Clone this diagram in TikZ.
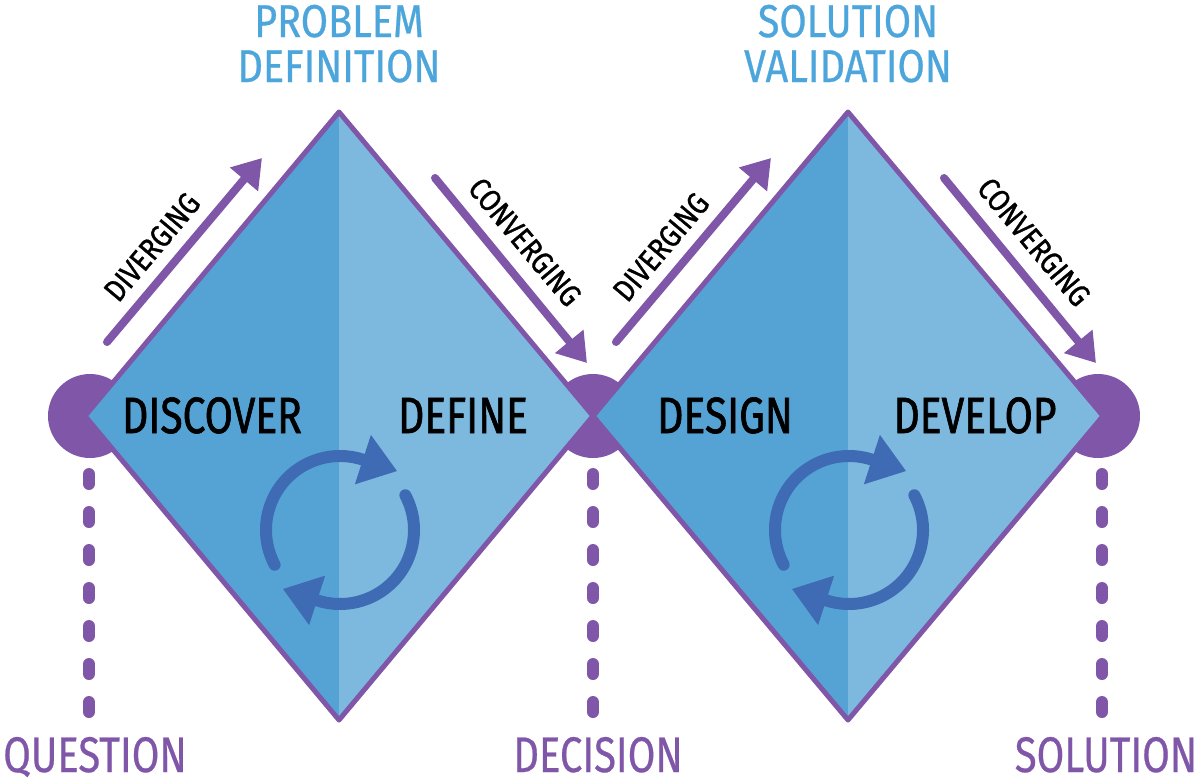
\documentclass[tikz,border=0pt]{standalone}
\usepackage{fontspec}
\newfontfamily\dinfont[FakeStretch=0.8,FakeBold=0.5]{Fira Sans}
\newfontfamily\dintitle[FakeStretch=0.86,FakeBold=0.6]{Fira Sans}
\newfontfamily\dinmode[FakeStretch=0.86,FakeBold=1.2]{Fira Sans}
\newfontfamily\dinbold[FakeStretch=0.8,FakeBold=1.2]{Fira Sans}
\usetikzlibrary{arrows.meta}
\definecolor{dpurple}{HTML}{7F56A8}
\definecolor{bluedark}{HTML}{55A3D4}
\definecolor{bluelight}{HTML}{7DB9DF}
\definecolor{titleblue}{HTML}{4DA6DB}
\definecolor{cycleblue}{HTML}{3F6BB5}
\tikzset{
  edge/.style={draw=dpurple, line width=5pt, line join=round},
  flowarrow/.style={draw=dpurple, line width=8pt, line cap=round, -{Triangle[length=28pt,width=35pt]}},
  dashline/.style={draw=dpurple, line width=12pt, line cap=round, dash pattern=on 10pt off 28pt},
  hub/.style={circle, fill=dpurple, minimum size=84pt, inner sep=0pt},
  cyc/.style={draw=cycleblue, line width=12pt, line cap=round},
  title/.style={text=titleblue, font=\dintitle\fontsize{46}{46}\selectfont, inner sep=0pt, anchor=base},
  phase/.style={text=black, font=\dinbold\fontsize{51}{51}\selectfont, inner sep=0pt, anchor=base},
  mode/.style={text=black, font=\dinmode\fontsize{31}{31}\selectfont, inner sep=0pt},
  outcome/.style={text=dpurple, font=\dinfont\fontsize{50}{50}\selectfont, inner sep=0pt, anchor=base},
}
\newcommand\cyclemark[2]{%
  \begin{scope}[shift={(#1,#2)}]
    \draw[cyc] (-208:74) arc[start angle=-208,end angle=-72,radius=74];
    \fill[cycleblue] (-72:100) -- (-46:82) -- (-72:48) -- cycle;
    \draw[cyc] (-28:74) arc[start angle=-28,end angle=108,radius=74];
    \fill[cycleblue] (108:100) -- (134:82) -- (108:48) -- cycle;
  \end{scope}}
\begin{document}
\begin{tikzpicture}[x=1pt,y=-1pt]
\useasboundingbox (0,0) rectangle (1200,782);
% vertices
\coordinate (L1) at (85,416);  \coordinate (T1) at (339,112);
\coordinate (R1) at (593,416); \coordinate (B1) at (339,720);
\coordinate (L2) at (593,416); \coordinate (T2) at (848,112);
\coordinate (R2) at (1103,416);\coordinate (B2) at (848,720);
% hubs
\node[hub] (h1) at (90,416) {};
\node[hub] (h2) at (593,416) {};
\node[hub] (h3) at (1098,416) {};
% dashed drops
\coordinate (d1a) at (89,474);   \coordinate (d1b) at (89,716);
\coordinate (d2a) at (593,474);  \coordinate (d2b) at (593,716);
\coordinate (d3a) at (1102,474); \coordinate (d3b) at (1102,716);
\draw[dashline] (d1a) -- (d1b);
\draw[dashline] (d2a) -- (d2b);
\draw[dashline] (d3a) -- (d3b);
% diamonds
\fill[bluedark]  (L1) -- (T1) -- (B1) -- cycle;
\fill[bluelight] (T1) -- (R1) -- (B1) -- cycle;
\fill[bluedark]  (L2) -- (T2) -- (B2) -- cycle;
\fill[bluelight] (T2) -- (R2) -- (B2) -- cycle;
\draw[edge] (L1) -- (T1) -- (R1) -- (B1) -- cycle;
\draw[edge] (L2) -- (T2) -- (R2) -- (B2) -- cycle;
% cycles
\cyclemark{340}{530}
\cyclemark{849}{530}
% flow arrows
\coordinate (a1s) at (107,342);  \coordinate (a1e) at (262,158);
\coordinate (a2s) at (435,178);  \coordinate (a2e) at (587,363);
\coordinate (a3s) at (616,342);  \coordinate (a3e) at (771,158);
\coordinate (a4s) at (944,178);  \coordinate (a4e) at (1096,363);
\draw[flowarrow] (a1s) -- (a1e);
\draw[flowarrow] (a2s) -- (a2e);
\draw[flowarrow] (a3s) -- (a3e);
\draw[flowarrow] (a4s) -- (a4e);
\node[mode, rotate=50]  (dv1) at (152,247) {DIVERGING};
\node[mode, rotate=-50] (cv1) at (525,242) {CONVERGING};
\node[mode, rotate=50]  (dv2) at (661,247) {DIVERGING};
\node[mode, rotate=-50] (cv2) at (1034,242) {CONVERGING};
% titles
\node[title] (t1a) at (339,37) {PROBLEM};
\node[title] (t1b) at (339,82) {DEFINITION};
\node[title] (t2a) at (848,37) {SOLUTION};
\node[title] (t2b) at (848,82) {VALIDATION};
% phases
\node[phase] (p1) at (212,433) {DISCOVER};
\node[phase] (p2) at (463,433) {DEFINE};
\node[phase] (p3) at (725,433) {DESIGN};
\node[phase] (p4) at (975,433) {DEVELOP};
% outcomes
\node[outcome] (o1) at (95,772) {QUESTION};
\node[outcome] (o2) at (598,772) {DECISION};
\node[outcome] (o3) at (1106,772) {SOLUTION};
\end{tikzpicture}
\end{document}
